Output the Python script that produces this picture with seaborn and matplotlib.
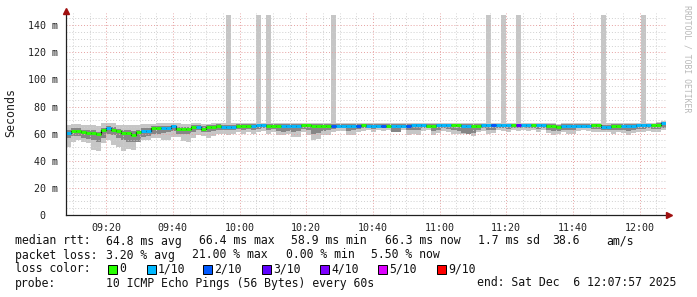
import numpy as np
import pandas as pd
import matplotlib
matplotlib.use("Agg")
import matplotlib.pyplot as plt
import seaborn as sns
from matplotlib.transforms import ScaledTranslation
from matplotlib.patches import Rectangle

sns.set_style("white")
plt.rcParams["font.family"] = ["DejaVu Sans Mono", "DejaVu Sans"]

# ---------------- data ----------------
start_min = 7.95          # 09:07:57, minutes after 09:00
step_min = 1.5

median = [60.2, 62, 62, 61, 60.4, 60.4, 59.5, 62.5, 64.5, 62.8, 61.7, 60.3, 60.2, 58.8, 61, 62, 62, 63.9, 63.9, 64, 64.5, 65.6, 63.5, 63.4,
          63.5, 65, 65, 63.5, 65, 65, 65.8, 65, 65, 65, 65.8, 65.8, 65.5, 66, 66.1, 66.1, 65.6, 65.6, 65.6, 65.6, 65.6, 65.6, 65.6, 66.3, 66.3,
          65.8, 65.8, 65.8, 65.8, 65.8, 65.8, 65.8, 65.8, 65.8, 65.8, 66.3, 65.6, 65.6, 65.6, 65.6, 65.3, 65.3, 65.3, 65.6, 65.6, 66.3, 66.3, 66.3, 65.8,
          65.8, 66.3, 66.3, 66.3, 66.3, 66.3, 65.6, 65.6, 65.8, 65.8, 66.3, 66.3, 66.3, 66.3, 66.3, 66.3, 66.3, 66.3, 66.3, 66.3, 66.3, 66.3, 66.3, 65.8,
          65.6, 64.6, 65.6, 65.8, 65.8, 65.8, 65.8, 65.8, 66.3, 66.3, 65, 65, 65.6, 65.6, 65.6, 65.6, 65.8, 66.3, 66.3, 66.3, 66.3, 66.6, 68]

loss = [1, 0, 0, 0, 0, 0, 0, 0, 1, 0, 0, 0, 0, 0, 0, 1, 1, 0, 0, 1, 1, 1, 0, 0,
        0, 0, 1, 0, 0, 0, 0, 1, 1, 1, 0, 0, 0, 1, 1, 1, 0, 0, 0, 1, 1, 1, 1, 0, 0,
        0, 0, 0, 0, 2, 1, 1, 1, 1, 2, 0, 1, 1, 1, 2, 0, 1, 1, 1, 2, 1, 1, 1, 0,
        0, 1, 1, 1, 0, 0, 1, 1, 0, 0, 1, 1, 2, 1, 1, 1, 0, 3, 1, 1, 0, 1, 1, 0,
        0, 0, 1, 1, 1, 1, 1, 1, 0, 0, 1, 1, 0, 0, 1, 1, 1, 1, 1, 1, 0, 0, 1]

ping_min = [50.5, 54, 55, 54, 53, 48, 47, 53, 55, 52, 50.5, 47, 49, 48, 54, 55, 55, 56.5, 56.5, 55, 55, 57.5, 57.7, 54.5,
            54, 57, 59, 58, 56.5, 58, 60, 60, 59, 60, 61, 60, 61, 59.5, 61, 62, 60, 61, 59, 59, 60, 57.7, 57.7, 61, 59,
            55.5, 56, 59, 59, 61, 62, 62, 59, 59, 61, 62, 62.5, 61.5, 62.5, 62, 63, 61.5, 61, 62.5, 59, 59.5, 59, 62, 62.5,
            59, 60.5, 62, 61, 59.7, 59.7, 59.7, 59.5, 58.5, 61, 62, 60, 60.5, 62.5, 62, 61, 62.5, 62, 62.5, 62, 62.5, 61, 62.5, 60.5,
            59, 59.5, 61, 60, 60, 62, 62.5, 62, 61.4, 61.4, 61.4, 61.4, 60, 61.4, 60.5, 59, 60.5, 61.4, 61.4, 62, 61.4, 61.4, 62.5]

ping_low = [57, 58.5, 58.5, 57, 56, 55, 54, 57, 60, 59, 57, 55, 54, 53.5, 54, 57.5, 58, 60, 60, 60.5, 61, 62, 60, 59.5,
            60, 61.5, 62.5, 61, 61.5, 62, 63, 63, 62.5, 63, 63.5, 63, 63.5, 63, 63.5, 64, 63, 63.5, 62, 61.5, 62, 61, 62, 63.5, 63,
            60, 60.5, 62, 62.5, 63.5, 64, 64, 62, 62.5, 63.5, 64, 64, 63.5, 64, 64, 64, 61.5, 61.5, 64, 63, 63, 62.5, 64, 64,
            62, 63, 64, 63.5, 62.5, 62, 60.5, 60, 60.5, 63, 64, 62.5, 63, 64, 64, 63.5, 64, 64, 64, 64, 64, 63.5, 64, 62.5,
            62, 62, 63, 62.5, 62.5, 64, 64, 64, 63.5, 63.5, 63, 63, 62.5, 63, 63, 62, 63, 63.5, 63.5, 64, 63.5, 63.5, 64]

ping_high = [62.5, 64, 64, 63, 62.5, 62.5, 61.5, 64, 66, 65, 63.5, 62.5, 62.5, 62, 62.5, 64, 64, 65.5, 65.5, 65.5, 66, 66.5, 65, 65,
             65, 66.5, 66.5, 65.5, 66.5, 66.5, 67, 66.5, 66.5, 66.5, 67, 67, 67, 67, 67, 67, 67, 67, 67, 67, 67, 67, 67, 67, 67,
             67, 67, 67, 67, 67, 67, 67, 67, 67, 67, 67, 67, 67, 67, 67, 67, 67, 67, 67, 67, 67, 67, 67, 67,
             67, 67, 67, 67, 67, 67, 67, 67, 67, 67, 67, 67, 67, 67, 67, 67, 67, 67, 67, 67, 67, 67, 67, 67,
             67, 66.5, 67, 67, 67, 67, 67, 67, 67, 67, 66.5, 66.5, 67, 67, 67, 67, 67, 67, 67, 67, 67, 67.5, 68.5]

ping_max = [66.5, 67, 67, 66.5, 66.3, 66.3, 66, 67.6, 67.6, 67.6, 66.5, 66.5, 66.5, 66.5, 66.5, 67, 67, 67, 67.5, 67.5, 67.5, 68, 67.5, 67, 67,
            67.5, 67.5, 67, 67, 67.5, 67.5, 67.5, 147.4, 67.5, 67.5, 67.5, 67.5, 68, 147.4, 68, 147.4, 68, 67.5, 67.5, 67.5, 67.5, 67.5, 68, 68,
            67.5, 67.5, 67.5, 67.5, 147.4, 67.5, 67.5, 67.5, 67.5, 67.5, 68, 67.5, 67.5, 67.5, 67.5, 67.5, 67.5, 67.5, 67.5, 68, 68, 68, 67.5, 67.5,
            67.5, 68, 68, 68, 68, 67.5, 67.5, 67.5, 67.5, 67.5, 68, 147.4, 68, 68, 147.4, 68, 68, 147.4, 68, 68, 68, 68, 68, 67.5,
            67.5, 67, 67.5, 67.5, 67.5, 67.5, 67.5, 67.5, 68, 68, 147.4, 67.5, 67.5, 67.5, 67.5, 67.5, 67.5, 68, 147.4, 68, 68, 68.5, 69]

x_ticks = [20, 40, 60, 80, 100, 120, 140, 160, 180]
x_labels = ["09:20", "09:40", "10:00", "10:20", "10:40", "11:00", "11:20", "11:40", "12:00"]
y_ticks = [0, 20, 40, 60, 80, 100, 120, 140]
y_labels = ["0", "20 m", "40 m", "60 m", "80 m", "100 m", "120 m", "140 m"]

loss_colors = ["#26ff00", "#00b8ff", "#0059ff", "#5e00ff", "#7e00ff", "#dd00ff", "#ff0000"]
loss_labels = ["0", "1/10", "2/10", "3/10", "4/10", "5/10", "9/10"]

legend_rows = [
    [(16, "median rtt:"), (107, "64.8 ms avg"), (200, "66.4 ms max"), (292, "58.9 ms min"),
     (386, "66.3 ms now"), (479, "1.7 ms sd"), (553, "38.6"), (607, "am/s")],
    [(16, "packet loss:"), (107, "3.20 % avg"), (193, "21.00 % max"), (287, "0.00 % min"), (372, "5.50 % now")],
    [(16, "loss color:")],
    [(16, "probe:"), (107, "10 ICMP Echo Pings (56 Bytes) every 60s"), (478, "end: Sat Dec  6 12:07:57 2025")],
]
legend_box_x = [108, 147, 203, 262, 320, 378, 437]

# ---------------- figure ----------------
W, H = 697, 297
fig = plt.figure(figsize=(W / 100, H / 100), dpi=100)
fig.patch.set_facecolor("white")
ax = fig.add_axes([66 / W, 82 / H, 600 / W, 202 / H])
ax.set_facecolor("white")

n = len(median)
edges = start_min + step_min * np.arange(n + 1)
df = pd.DataFrame({"t": edges, "median": list(median) + [median[-1]]})

def ext(a):
    return list(a) + [a[-1]]

ax.fill_between(edges, ext(ping_min), ext(ping_max), step="post", color="#c6c6c6", lw=0, zorder=1)
ax.fill_between(edges, ext(ping_low), ext(ping_high), step="post", color="#868686", lw=0, zorder=1.1)

sns.lineplot(data=df, x="t", y="median", drawstyle="steps-post", color="black", lw=0.9, ax=ax, zorder=3)
ax.hlines(median, edges[:-1], edges[1:], colors=[loss_colors[l] for l in loss], lw=2.1, zorder=4)

ax.set_xlim(start_min, start_min + step_min * n)
ax.set_ylim(0, 149)

ax.set_xticks(x_ticks)
ax.set_xticklabels(x_labels)
ax.set_xticks(np.arange(10, 186, 5), minor=True)
ax.set_yticks(y_ticks)
ax.set_yticklabels(y_labels)
ax.set_yticks(np.arange(0, 149, 5), minor=True)

ax.set_axisbelow(False)
ax.grid(True, which="major", color="#e6a0a0", lw=0.7, ls=(0, (1, 2)), zorder=2)
ax.grid(True, which="minor", color="#cfcfcf", lw=0.7, ls=(0, (1, 2)), zorder=2)

for s in ["top", "right"]:
    ax.spines[s].set_visible(False)
for s in ["left", "bottom"]:
    ax.spines[s].set_color("#202020")
    ax.spines[s].set_linewidth(0.9)
    ax.spines[s].set_zorder(5)

ax.tick_params(axis="both", which="major", direction="out", length=2.5, width=0.7, color="#202020",
               labelsize=7.2, labelcolor="#202020", pad=3.5)
ax.tick_params(axis="both", which="minor", direction="out", length=1.5, width=0.6, color="#404040")

# shift the unitless "0" label to align with the digits above it
for lab in ax.get_yticklabels():
    if lab.get_text() == "0":
        lab.set_transform(lab.get_transform() + ScaledTranslation(-12 / 100, 0, fig.dpi_scale_trans))

ax.set_xlabel("")
ax.set_ylabel("")
fig.text(11 / W, 1 - 113 / H, "Seconds", rotation=90, ha="center", va="center", fontsize=8.4, color="#202020")

# axis arrows
ax.plot([1.0], [0], marker=">", color="#a01010", ms=4, transform=ax.transAxes + ScaledTranslation(3 / 100, 0, fig.dpi_scale_trans),
        clip_on=False, zorder=6)
ax.plot([0], [1.0], marker="^", color="#a01010", ms=4, transform=ax.transAxes + ScaledTranslation(0, 2 / 100, fig.dpi_scale_trans),
        clip_on=False, zorder=6)

fig.text(687 / W, 1 - 5 / H, "RRDTOOL / TOBI OETIKER", rotation=-90, ha="center", va="top",
         fontsize=5.9, color="#b8b8b8")

# legend text
row_y = [241, 255, 269, 283]
for ry, row in zip(row_y, legend_rows):
    for x, txt in row:
        fig.text((x - 1) / W, 1 - ry / H, txt, ha="left", va="center", fontsize=8.3, color="#111111")

for bx, col, lab in zip(legend_box_x, loss_colors, loss_labels):
    fig.patches.append(Rectangle((bx / W, 1 - (269 + 4.5) / H), 8.5 / W, 8.5 / H,
                                 transform=fig.transFigure, facecolor=col, edgecolor="black", lw=0.7))
    fig.text((bx + 11) / W, 1 - 269 / H, lab, ha="left", va="center", fontsize=8.3, color="#111111")

fig.savefig("out.png", dpi=100, facecolor="white")
